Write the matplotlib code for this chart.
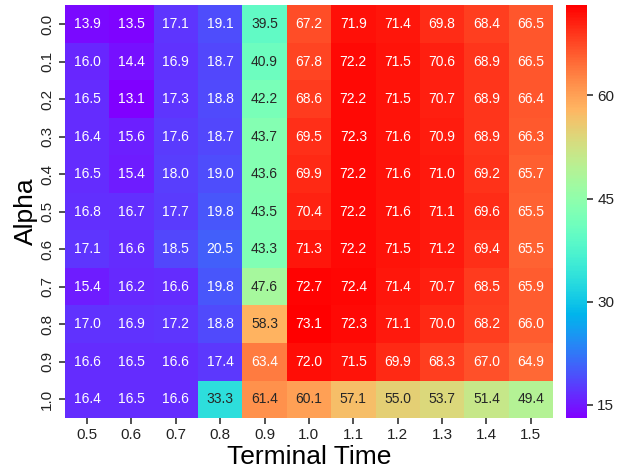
import numpy as np
import pandas as pd
import matplotlib
matplotlib.use("Agg")
import matplotlib.pyplot as plt
import seaborn as sns

alphas = ["0.0", "0.1", "0.2", "0.3", "0.4", "0.5", "0.6", "0.7", "0.8", "0.9", "1.0"]
times = ["0.5", "0.6", "0.7", "0.8", "0.9", "1.0", "1.1", "1.2", "1.3", "1.4", "1.5"]

row_00 = [13.9, 13.5, 17.1, 19.1, 39.5, 67.2, 71.9, 71.4, 69.8, 68.4, 66.5]
row_01 = [16.0, 14.4, 16.9, 18.7, 40.9, 67.8, 72.2, 71.5, 70.6, 68.9, 66.5]
row_02 = [16.5, 13.1, 17.3, 18.8, 42.2, 68.6, 72.2, 71.5, 70.7, 68.9, 66.4]
row_03 = [16.4, 15.6, 17.6, 18.7, 43.7, 69.5, 72.3, 71.6, 70.9, 68.9, 66.3]
row_04 = [16.5, 15.4, 18.0, 19.0, 43.6, 69.9, 72.2, 71.6, 71.0, 69.2, 65.7]
row_05 = [16.8, 16.7, 17.7, 19.8, 43.5, 70.4, 72.2, 71.6, 71.1, 69.6, 65.5]
row_06 = [17.1, 16.6, 18.5, 20.5, 43.3, 71.3, 72.2, 71.5, 71.2, 69.4, 65.5]
row_07 = [15.4, 16.2, 16.6, 19.8, 47.6, 72.7, 72.4, 71.4, 70.7, 68.5, 65.9]
row_08 = [17.0, 16.9, 17.2, 18.8, 58.3, 73.1, 72.3, 71.1, 70.0, 68.2, 66.0]
row_09 = [16.6, 16.5, 16.6, 17.4, 63.4, 72.0, 71.5, 69.9, 68.3, 67.0, 64.9]
row_10 = [16.4, 16.5, 16.6, 33.3, 61.4, 60.1, 57.1, 55.0, 53.7, 51.4, 49.4]

values = np.array([row_00, row_01, row_02, row_03, row_04, row_05,
                   row_06, row_07, row_08, row_09, row_10])
df = pd.DataFrame(values, index=alphas, columns=times)

plt.rcParams['font.family'] = ['Liberation Sans', 'DejaVu Sans']

fig = plt.figure(figsize=(6.35, 4.74), dpi=100)
ax = fig.add_axes([0.102, 0.118, 0.769, 0.871])
cax = fig.add_axes([0.891, 0.118, 0.033, 0.871])

sns.heatmap(df, ax=ax, cbar_ax=cax, cmap='rainbow', annot=True, fmt='.1f',
            annot_kws={'fontsize': 10})

ax.set_xlabel('Terminal Time', fontsize=19, labelpad=2)
ax.set_ylabel('Alpha', fontsize=19, labelpad=2)
ax.tick_params(axis='both', labelsize=11, length=4, width=1.2,
               color='#333333', labelcolor='#222222')
ax.set_yticklabels(alphas, rotation=90, va='center')
ax.set_xticklabels(times, rotation=0)

cax.set_yticks([15, 30, 45, 60])
cax.tick_params(labelsize=11, length=4, width=1.2,
                color='#333333', labelcolor='#222222')

fig.savefig('out.png', dpi=100)
